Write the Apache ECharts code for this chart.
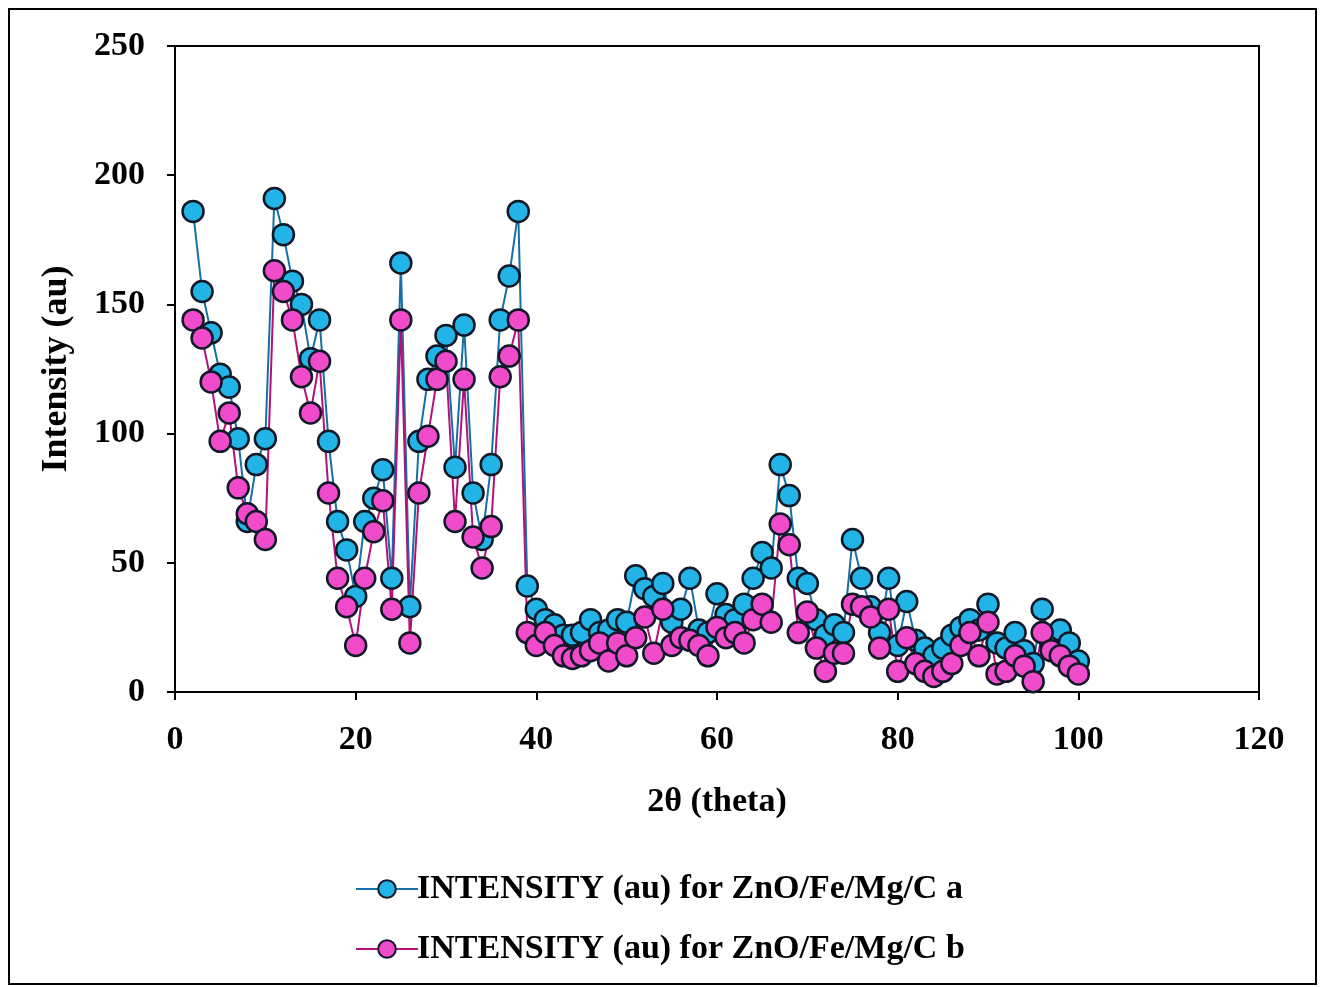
<!DOCTYPE html>
<html>
<head>
<meta charset="utf-8">
<script src="https://cdn.jsdelivr.net/npm/echarts@6/dist/echarts.min.js"></script>
<style>
html,body{margin:0;padding:0;background:#fff;}
#c{width:1325px;height:987px;}
</style>
</head>
<body>
<div id="c"></div>
<script>
// 2θ values (degrees)
const theta = [2,3,4,5,6,7,8,9,10,11,12,13,14,15,16,17,18,19,20,21,22,23,24,25,26,27,28,29,30,31,32,33,34,35,36,37,38,39,40,41,42,43,44,45,46,47,48,49,50,51,52,53,54,55,56,57,58,59,60,61,62,63,64,65,66,67,68,69,70,71,72,73,74,75,76,77,78,79,80,81,82,83,84,85,86,87,88,89,90,91,92,93,94,95,96,97,98,99,100];
// INTENSITY (au) for ZnO/Fe/Mg/C a
const intensityA = [186,155,139,123,118,98,66,88,98,191,177,159,150,129,144,97,66,55,37,66,75,86,44,166,33,97,121,130,138,87,142,77,59,88,144,161,186,41,32,28,26,22,22,23,28,23,24,28,27,45,40,37,42,27,32,44,24,23,38,30,28,34,44,54,48,88,76,44,42,28,22,26,23,59,44,33,23,44,18,35,20,17,14,17,22,25,28,24,34,19,17,23,16,11,32,18,24,19,12];
// INTENSITY (au) for ZnO/Fe/Mg/C b
const intensityB = [144,137,120,97,108,79,69,66,59,163,155,144,122,108,128,77,44,33,18,44,62,74,32,144,19,77,99,121,128,66,121,60,48,64,122,130,144,23,18,23,18,14,13,14,16,19,12,19,14,21,29,15,32,18,21,20,18,14,25,21,23,19,28,34,27,65,57,23,31,17,8,15,15,34,33,29,17,32,8,21,11,8,6,8,11,18,23,14,27,7,8,14,10,4,23,16,14,10,7];
const xTicks = [0,20,40,60,80,100,120];
const yTicks = [0,50,100,150,200,250];

const serif = '"Liberation Serif","DejaVu Serif",serif';
const chart = echarts.init(document.getElementById('c'), null, {renderer:'canvas'});
const pairs = arr => theta.map((t,i)=>[t,arr[i]]);
chart.setOption({
  animation:false,
  backgroundColor:'#fff',
  textStyle:{fontFamily:serif},
  graphic:[{type:'rect',shape:{x:9,y:9,width:1307,height:975},style:{fill:'none',stroke:'#000',lineWidth:2},z:-1}],
  grid:{left:175,top:46,width:1084,height:646,show:true,borderColor:'#000',borderWidth:2,backgroundColor:'transparent'},
  xAxis:{type:'value',min:xTicks[0],max:xTicks[xTicks.length-1],interval:20,
    name:'2θ (theta)',nameLocation:'middle',nameGap:93,
    nameTextStyle:{fontSize:34,fontWeight:'bold',color:'#000',fontFamily:serif},
    axisLine:{show:true,lineStyle:{color:'#000',width:2}},
    axisTick:{show:true,inside:false,length:8,lineStyle:{color:'#000',width:2}},
    axisLabel:{fontSize:34,fontWeight:'bold',color:'#000',margin:31,fontFamily:serif},
    splitLine:{show:false}},
  yAxis:{type:'value',min:yTicks[0],max:yTicks[yTicks.length-1],interval:50,
    name:'Intensity (au)',nameLocation:'middle',nameGap:100,nameRotate:90,
    nameTextStyle:{fontSize:36,fontWeight:'bold',color:'#000',fontFamily:serif},
    axisLine:{show:true,lineStyle:{color:'#000',width:2}},
    axisTick:{show:true,inside:false,length:8,lineStyle:{color:'#000',width:2}},
    axisLabel:{fontSize:34,fontWeight:'bold',color:'#000',margin:30,fontFamily:serif},
    splitLine:{show:false}},
  legend:{orient:'vertical',left:350,top:867,itemGap:26,itemWidth:62,itemHeight:22,
    textStyle:{fontSize:34,fontWeight:'bold',color:'#000',fontFamily:serif,padding:[0,0,0,-6]},
    data:['INTENSITY (au) for ZnO/Fe/Mg/C a','INTENSITY (au) for ZnO/Fe/Mg/C b']},
  series:[
    {name:'INTENSITY (au) for ZnO/Fe/Mg/C a',type:'line',data:pairs(intensityA),
     symbol:'circle',symbolSize:21,
     lineStyle:{color:'#1670A6',width:2},
     itemStyle:{color:'#22B4E6',borderColor:'#111827',borderWidth:2.5}},
    {name:'INTENSITY (au) for ZnO/Fe/Mg/C b',type:'line',data:pairs(intensityB),
     symbol:'circle',symbolSize:21,
     lineStyle:{color:'#B3127A',width:2},
     itemStyle:{color:'#F04BCB',borderColor:'#111827',borderWidth:2.5}}
  ]
});
</script>
</body>
</html>
